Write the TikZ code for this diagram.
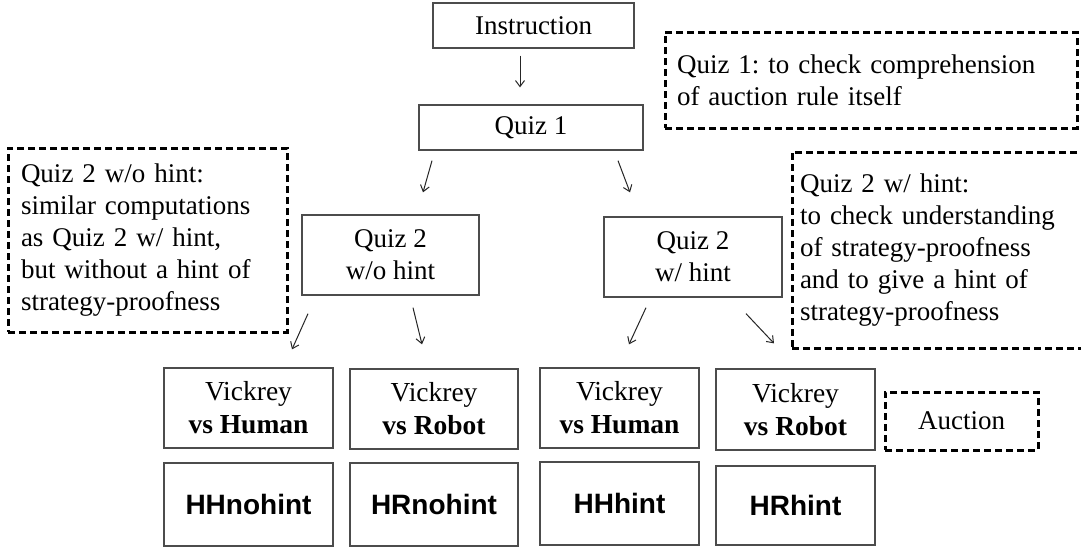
\documentclass[tikz,border=0pt]{standalone}
\usepackage{fontspec}
\setmainfont{Liberation Serif}
\newfontfamily\hsans{Liberation Sans}
\usetikzlibrary{arrows.meta}
\frenchspacing
\begin{document}
\begin{tikzpicture}[x=1pt,y=-1pt,
  solidbox/.style={draw=black!70, line width=1.3pt, rectangle, inner sep=0pt, align=center,
    font=\frenchspacing\fontsize{27}{32}\selectfont},
  botbox/.style={solidbox, font=\fontsize{27.5}{33}\selectfont},
  codebox/.style={solidbox, font=\hsans\bfseries\fontsize{28}{32}\selectfont},
  notebox/.style={draw=black, line width=3pt, dash pattern=on 7pt off 4pt, rectangle,
    inner sep=0pt, align=left, font=\frenchspacing\fontsize{27}{32}\selectfont},
  arr/.style={draw=black!85, line width=1pt, -{Straight Barb[length=6pt,width=9pt]}}]
\useasboundingbox (0,0) rectangle (1081,549);
\clip (0,0) rectangle (1081,549);
\fill[white] (0,0) rectangle (1081,549);

% main flow
\node[solidbox, minimum width=201pt, minimum height=45pt] (ins) at (533.5,25.5) {Instruction};
\node[solidbox, minimum width=224pt, minimum height=45pt] (q1) at (531,127.5) {Quiz 1};
\node[solidbox, minimum width=177pt, minimum height=80pt] (q2wo) at (390.5,255) {Quiz 2\\w/o hint};
\node[solidbox, minimum width=178pt, minimum height=80pt] (q2w) at (693,257) {Quiz 2\\w/ hint};

\node[botbox, minimum width=169pt, minimum height=80pt] (b1) at (248.5,408) {Vickrey\\\textbf{vs Human}};
\node[botbox, minimum width=168pt, minimum height=80pt] (b2) at (434,409) {Vickrey\\\textbf{vs Robot}};
\node[botbox, minimum width=159pt, minimum height=80pt] (b3) at (619.5,408) {Vickrey\\\textbf{vs Human}};
\node[botbox, minimum width=159pt, minimum height=81pt] (b4) at (795.5,409.5) {Vickrey\\\textbf{vs Robot}};

\node[codebox, minimum width=169pt, minimum height=83pt] (c1) at (248.5,504.5) {HHnohint};
\node[codebox, minimum width=168pt, minimum height=83pt] (c2) at (434,504.5) {HRnohint};
\node[codebox, minimum width=159pt, minimum height=83pt] (c3) at (619.5,503.5) {HHhint};
\node[codebox, minimum width=159pt, minimum height=79pt] (c4) at (795.5,505.5) {HRhint};

% notes
\node[notebox, minimum width=153pt, minimum height=58pt, align=center] (auc) at (961.5,421) {Auction};
\node[notebox, minimum width=412pt, minimum height=96pt, text width=388pt] (n1) at (871,80)
  {Quiz 1: to check comprehension\\of auction rule itself};
\node[notebox, minimum width=279pt, minimum height=184pt, text width=253pt] (n2) at (147.5,240)
  {Quiz 2 w/o hint:\\similar computations\\as Quiz 2 w/ hint,\\but without a hint of\\strategy-proofness};
\node[notebox, minimum width=303pt, minimum height=196pt, text width=287pt] (n3) at (943.5,250)
  {Quiz 2 w/ hint:\\to check understanding\\of strategy-proofness\\and to give a hint of\\strategy-proofness};

% connectors
\draw[arr] ([shift={(-13.5,7)}]ins.south) -- ([shift={(-11,-17)}]q1.north);
\draw[arr] ([shift={(-99,10)}]q1.south) -- ([shift={(32.5,-22)}]q2wo.north);
\draw[arr] ([shift={(87,10)}]q1.south) -- ([shift={(-63,-24)}]q2w.north);
\draw[arr] ([shift={(-82.5,18)}]q2wo.south) -- ([shift={(43.5,-18)}]b1.north);
\draw[arr] ([shift={(22.5,12)}]q2wo.south) -- ([shift={(-12,-24)}]b2.north);
\draw[arr] ([shift={(-47,10)}]q2w.south) -- ([shift={(9.5,-23)}]b3.north);
\draw[arr] ([shift={(53,16)}]q2w.south) -- ([shift={(-21.5,-25)}]b4.north);
\end{tikzpicture}
\end{document}
